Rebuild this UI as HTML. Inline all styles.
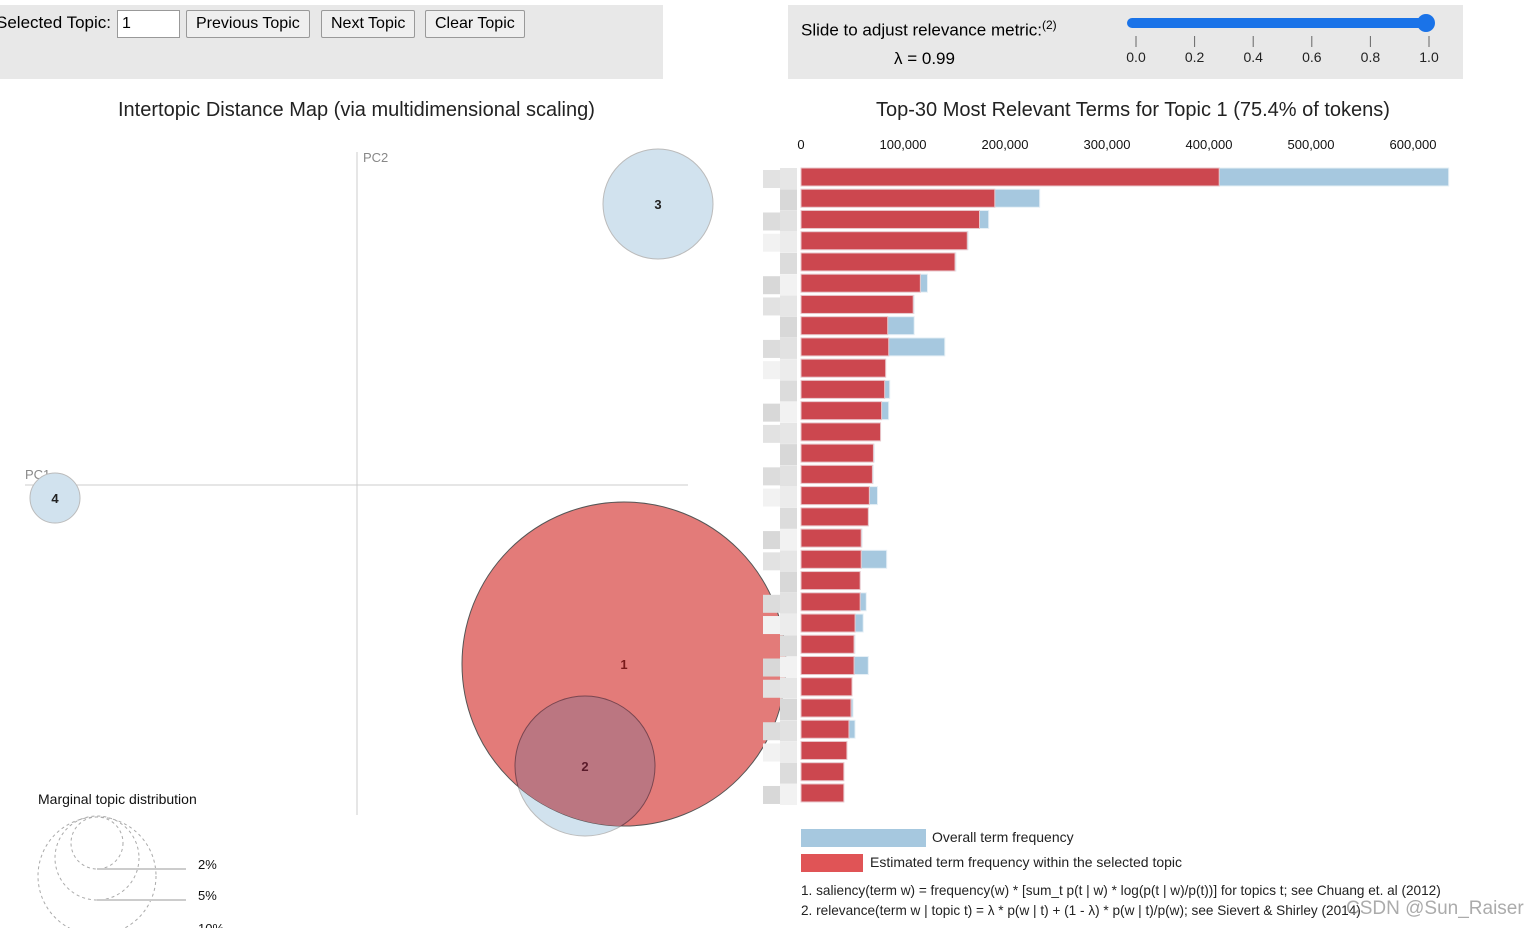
<!DOCTYPE html>
<html><head><meta charset="utf-8"><style>
body{margin:0;width:1532px;height:928px;overflow:hidden;background:#fff;font-family:"Liberation Sans",sans-serif;position:relative}
.panel{position:absolute;background:#e8e8e8}
button{font-family:"Liberation Sans",sans-serif;font-size:16px;height:28px;padding:0 9px;background:#efefef;border:1px solid #999;border-radius:2px;position:absolute;top:10px}
</style></head><body>
<div class="panel" style="left:0;top:5px;width:663px;height:74px">
 <span style="position:absolute;left:-4px;top:8px;font-size:17px">Selected Topic:</span>
 <input value="1" style="position:absolute;left:117px;top:5px;font-size:16px;border:1px solid #999;padding:0 4px;box-sizing:border-box;height:28px;width:63px">
</div>
<button style="left:186px">Previous Topic</button>
<button style="left:321px">Next Topic</button>
<button style="left:425px">Clear Topic</button>

<div class="panel" style="left:788px;top:5px;width:675px;height:74px">
 <span style="position:absolute;left:13px;top:13px;font-size:17px">Slide to adjust relevance metric:<sup style="font-size:12px">(2)</sup></span>
 <span style="position:absolute;left:106px;top:44px;font-size:17px">λ = 0.99</span>
</div>
<svg style="position:absolute;left:1120px;top:10px" width="330" height="60">
 <line x1="12" y1="13" x2="306" y2="13" stroke="#1a73e8" stroke-width="10" stroke-linecap="round"/>
 <circle cx="306" cy="13" r="9" fill="#1a73e8"/>
 <g id="sl" font-size="14" text-anchor="middle" fill="#222"></g>
</svg>

<div style="position:absolute;left:118px;top:99px;font-size:20px;color:#222">Intertopic Distance Map (via multidimensional scaling)</div>
<div style="position:absolute;left:876px;top:99px;font-size:20px;color:#222">Top-30 Most Relevant Terms for Topic 1 (75.4% of tokens)</div>

<svg style="position:absolute;left:0;top:0" width="790" height="928">
 <defs><clipPath id="c1"><circle cx="624" cy="664" r="162"/></clipPath></defs>
 <line x1="357" y1="152" x2="357" y2="815" stroke="#ccc"/>
 <line x1="25" y1="485" x2="688" y2="485" stroke="#ccc"/>
 <text x="363" y="162" font-size="13" fill="#888">PC2</text>
 <text x="25" y="479" font-size="13" fill="#888">PC1</text>
 <circle cx="658" cy="204" r="55" fill="#d1e2ee" stroke="#bbb"/>
 <circle cx="55" cy="498" r="25" fill="#d1e2ee" stroke="#bbb"/>
 <circle cx="585" cy="766" r="70" fill="#d1e2ee" stroke="#bbb"/>
 <circle cx="624" cy="664" r="162" fill="#e37b79" stroke="#555"/>
 <circle cx="585" cy="766" r="70" fill="#bb7681" stroke="#7a4650" clip-path="url(#c1)"/>
 <g font-size="13" font-weight="bold" text-anchor="middle">
  <text x="658" y="209" fill="#222">3</text>
  <text x="55" y="503" fill="#222">4</text>
  <text x="624" y="669" fill="#7a1a1a">1</text>
  <text x="585" y="771" fill="#5a1a2a">2</text>
 </g>
 <text x="38" y="804" font-size="14" fill="#111">Marginal topic distribution</text>
 <g fill="none" stroke="#aaa" stroke-dasharray="3,3">
  <circle cx="97" cy="843" r="26"/><circle cx="97" cy="858" r="42"/><circle cx="97" cy="876" r="59"/>
 </g>
 <g stroke="#ccc" stroke-width="2"><line x1="97" y1="869" x2="186" y2="869"/><line x1="97" y1="900" x2="186" y2="900"/></g>
 <g font-size="13" fill="#111"><text x="198" y="869">2%</text><text x="198" y="900">5%</text><text x="198" y="933">10%</text></g>
</svg>

<svg style="position:absolute;left:750px;top:130px" width="782" height="690">
 <g id="labels"></g><g id="axis" font-size="13" text-anchor="middle" fill="#111"></g><g id="bars"></g>
</svg>

<div style="position:absolute;left:801px;top:829px;font-size:14px;color:#222">
 <div style="position:absolute;left:0;top:0;width:125px;height:18px;background:#a6c8df"></div><span style="position:absolute;left:131px;top:0;white-space:nowrap">Overall term frequency</span>
 <div style="position:absolute;left:0;top:25px;width:62px;height:18px;background:#e05456"></div><span style="position:absolute;left:69px;top:25px;white-space:nowrap">Estimated term frequency within the selected topic</span>
</div>
<div style="position:absolute;left:801px;top:881px;font-size:13.6px;line-height:20px;color:#222;white-space:nowrap">1. saliency(term w) = frequency(w) * [sum_t p(t | w) * log(p(t | w)/p(t))] for topics t; see Chuang et. al (2012)<br>2. relevance(term w | topic t) = λ * p(w | t) + (1 - λ) * p(w | t)/p(w); see Sievert &amp; Shirley (2014)</div>
<div style="position:absolute;left:1346px;top:898px;font-size:19px;color:rgba(150,150,150,0.8)">CSDN @Sun_Raiser</div>

<script>
const sliderTicks=["0.0","0.2","0.4","0.6","0.8","1.0"];
const redVals=[410,190,175,163,151,117,110,85,86,83,82,79,78,71,70,67,66,59,59,58,58,53,52,52,50,49,47,45,42,42];
const blueVals=[635,234,184,164,152,124,111,111,141,83,87,86,78,72,71,75,66,60,84,58,64,61,53,66,50,51,53,45,42,42];
const xTicks=[0,100000,200000,300000,400000,500000,600000];
const NS="http://www.w3.org/2000/svg";
function mk(t,a,p){const e=document.createElementNS(NS,t);for(const k in a)e.setAttribute(k,a[k]);p.appendChild(e);return e;}
const sl=document.getElementById('sl');
sliderTicks.forEach((t,i)=>{const x=16+i*58.6;
 const l=mk('line',{x1:x,y1:26,x2:x,y2:37,stroke:'#666'},sl);
 
 
 const tx=mk('text',{x:x,y:52},sl);tx.textContent=t;
 
 });
const X=v=>51+v*1.02/1000; // raw count -> chart-local x
const Y=i=>38+i*21.24;
const ax=document.getElementById('axis');
xTicks.forEach(v=>{const t=mk('text',{x:X(v),y:19},ax);t.textContent=v.toLocaleString('en-US');
 
 });
const bars=document.getElementById('bars'),lab=document.getElementById('labels');
const grays=['#e6e6e6','#d8d8d8','#e2e2e2','#ececec','#dcdcdc','#f2f2f2'];
redVals.forEach((r,i)=>{
 const g=mk('rect',{x:30,y:Y(i),width:17,height:21,fill:grays[i%6]},lab);
 
 
 if(i%3!==1)mk('rect',{x:13,y:Y(i)+2,width:17,height:18,fill:grays[(i+2)%6]},lab);
 const b=mk('rect',{x:X(0),y:Y(i),width:X(blueVals[i]*1000)-X(0),height:18,fill:'#a6c8df',stroke:'#e6f0f6'},bars);
 
 
 const rr=mk('rect',{x:X(0),y:Y(i),width:X(r*1000)-X(0),height:18,fill:'#cc474f',stroke:'#e9c7cb'},bars);
 
 
});
</script>
</body></html>
